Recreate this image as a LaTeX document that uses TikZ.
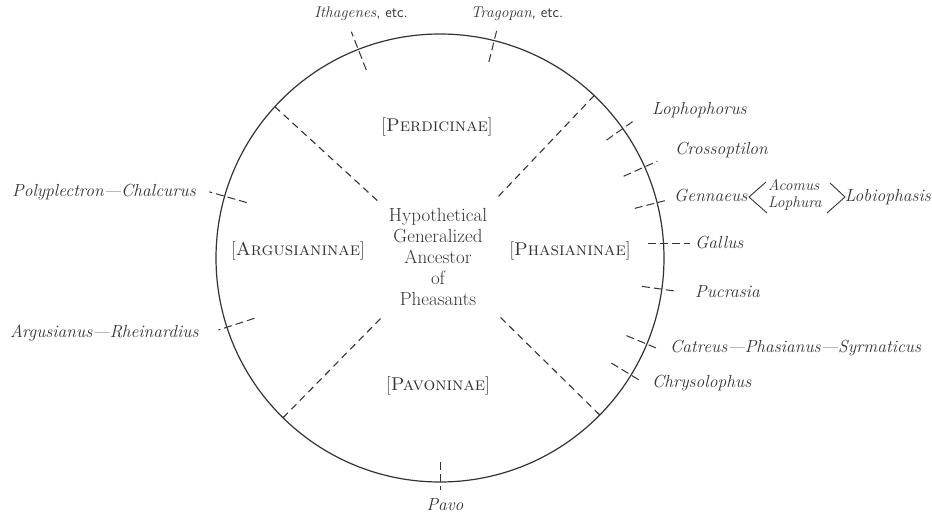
\documentclass[tikz,border=0pt]{standalone}
\usetikzlibrary{calc}
\definecolor{ink}{gray}{0.2}
\begin{document}
\begin{tikzpicture}[x=1pt,y=1pt,
  ring/.style={draw=ink,line width=1.2pt},
  divline/.style={draw=ink,line width=1.1pt,dash pattern=on 7pt off 5pt},
  tickline/.style={draw=ink,line width=1pt,dash pattern=on 8pt off 4pt},
  brk/.style={draw=ink,line width=0.9pt},
  genus/.style={text=ink,font=\fontsize{17.5}{20}\selectfont\itshape,inner sep=0pt},
  smallgenus/.style={text=ink,font=\fontsize{15.5}{18}\selectfont\itshape,inner sep=0pt},
  toplabel/.style={text=ink,font=\fontsize{15.5}{17}\selectfont\itshape,inner sep=0pt},
  subfam/.style={text=ink,font=\fontsize{18.5}{20}\selectfont,inner sep=0pt},
  anc/.style={text=ink,font=\fontsize{19}{21}\selectfont,inner sep=0pt,align=center}]
\useasboundingbox (0,0) rectangle (932,515);
\coordinate (c) at (440,257);
\draw[ring] (c) circle (224pt);
% dividers
\foreach \a in {137.5,46.5,225.5,-44.5}
  \draw[divline] ($(c)+(\a:85)$) -- ($(c)+(\a:224)$);
% ticks on the circle
\foreach \a/\ri/\ro in {111.4/202/243, 76/202/235, 35.3/204/239, 24/201/238,
  14.3/201/232, -8/204/240, -22.6/202/234, -31.5/201/237, -90/204/232,
  198/195/233, 164/201/240}
  \draw[tickline] ($(c)+(\a:\ri)$) -- ($(c)+(\a:\ro)$);
\coordinate (gi) at (648,272);
\coordinate (go) at (690,272);
\draw[tickline] (gi) -- (go);
% central text
\node[anc] (ancestor) at (438,258) {Hypothetical\\Generalized\\Ancestor\\of\\Pheasants};
% subfamilies
\node[subfam,anchor=base] (perd) at (437,383) {[\textsc{Perdicinae}]};
\node[subfam,anchor=base] (argu) at (298,260) {[\textsc{Argusianinae}]};
\node[subfam,anchor=base] (phas) at (570,260) {[\textsc{Phasianinae}]};
\node[subfam,anchor=base] (pavo) at (438,125) {[\textsc{Pavoninae}]};
% genera
\node[toplabel,anchor=base] (ith) at (361,497) {Ithagenes{\upshape\sffamily\fontsize{15}{17}\selectfont, etc.}};
\node[toplabel,anchor=base] (tra) at (517,497) {Tragopan{\upshape\sffamily\fontsize{15}{17}\selectfont, etc.}};
\node[genus,anchor=base west] (lop) at (652,400) {Lophophorus};
\node[genus,anchor=base west] (cro) at (675,360) {Crossoptilon};
\node[genus,anchor=base west] (gen) at (674,313) {Gennaeus};
\coordinate (lt) at (749,318);
\draw[brk] ($(lt)+(17,15)$) -- (lt) -- ($(lt)+(18,-16)$);
\node[smallgenus,anchor=base west] (aco) at (768,324) {Acomus};
\node[smallgenus,anchor=base west] (lph) at (768,307) {Lophura};
\coordinate (rt) at (845,318);
\draw[brk] ($(rt)+(-15,14)$) -- (rt) -- ($(rt)+(-18,-16)$);
\node[genus,anchor=base east] (lob) at (931,313) {Lobiophasis};
\node[genus,anchor=base west] (gal) at (695,267) {Gallus};
\node[genus,anchor=base west] (puc) at (695,218) {Pucrasia};
\node[genus,anchor=base west] (cat) at (670,163) {Catreus---Phasianus---Syrmaticus};
\node[genus,anchor=base west] (chr) at (652,128) {Chrysolophus};
\node[genus,anchor=base west] (pol) at (12,318) {Polyplectron---Chalcurus};
\node[genus,anchor=base west] (arg) at (10,178) {Argusianus---Rheinardius};
\node[genus,anchor=base] (pav) at (445,5) {Pavo};
\end{tikzpicture}
\end{document}
